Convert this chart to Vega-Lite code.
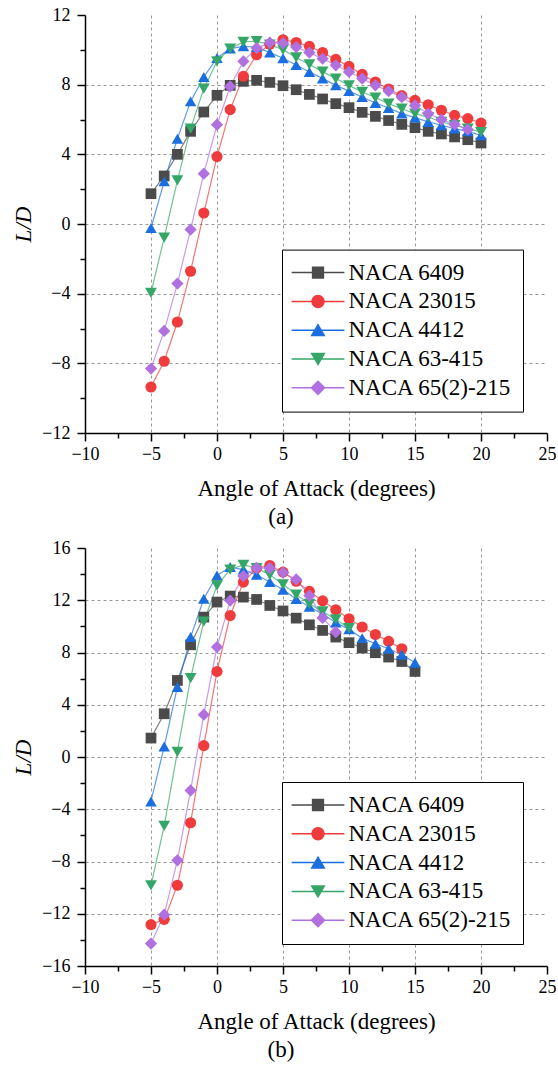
{
  "$schema": "https://vega.github.io/schema/vega-lite/v6.json",
  "padding": {"left": 12, "top": 6, "right": 0, "bottom": 0},
  "spacing": 10,
  "config": {
    "view": {"stroke": null},
    "font": "Liberation Serif",
    "style": {"guide-label": {"font": "Liberation Serif"}, "guide-title": {"font": "Liberation Serif"}},
    "axis": {"domainColor": "#000", "domainWidth": 1.5, "tickColor": "#000", "tickWidth": 1.5, "labelColor": "#000", "labelFontSize": 18, "labelFont": "Liberation Serif", "titleFont": "Liberation Serif", "titleFontSize": 23, "titleFontWeight": "normal", "titleColor": "#000", "gridColor": "#999999", "gridDash": [3, 3], "gridWidth": 1, "labelFlush": false, "labelOverlap": false, "labelBound": false}
  },
  "resolve": {"scale": {"color": "independent"}, "legend": {"color": "independent"}},
  "datasets": {
    "a": [
      {"airfoil": "NACA 6409", "aoa": -5, "ld": 1.74}, {"airfoil": "NACA 6409", "aoa": -4, "ld": 2.76}, {"airfoil": "NACA 6409", "aoa": -3, "ld": 4.0}, {"airfoil": "NACA 6409", "aoa": -2, "ld": 5.32}, {"airfoil": "NACA 6409", "aoa": -1, "ld": 6.43}, {"airfoil": "NACA 6409", "aoa": 0, "ld": 7.39}, {"airfoil": "NACA 6409", "aoa": 1, "ld": 7.96}, {"airfoil": "NACA 6409", "aoa": 2, "ld": 8.19}, {"airfoil": "NACA 6409", "aoa": 3, "ld": 8.25}, {"airfoil": "NACA 6409", "aoa": 4, "ld": 8.13}, {"airfoil": "NACA 6409", "aoa": 5, "ld": 7.94}, {"airfoil": "NACA 6409", "aoa": 6, "ld": 7.71}, {"airfoil": "NACA 6409", "aoa": 7, "ld": 7.44}, {"airfoil": "NACA 6409", "aoa": 8, "ld": 7.18}, {"airfoil": "NACA 6409", "aoa": 9, "ld": 6.91}, {"airfoil": "NACA 6409", "aoa": 10, "ld": 6.68}, {"airfoil": "NACA 6409", "aoa": 11, "ld": 6.41}, {"airfoil": "NACA 6409", "aoa": 12, "ld": 6.18}, {"airfoil": "NACA 6409", "aoa": 13, "ld": 5.94}, {"airfoil": "NACA 6409", "aoa": 14, "ld": 5.72}, {"airfoil": "NACA 6409", "aoa": 15, "ld": 5.53}, {"airfoil": "NACA 6409", "aoa": 16, "ld": 5.32}, {"airfoil": "NACA 6409", "aoa": 17, "ld": 5.17}, {"airfoil": "NACA 6409", "aoa": 18, "ld": 5.0}, {"airfoil": "NACA 6409", "aoa": 19, "ld": 4.84}, {"airfoil": "NACA 6409", "aoa": 20, "ld": 4.65},
      {"airfoil": "NACA 23015", "aoa": -5, "ld": -9.36}, {"airfoil": "NACA 23015", "aoa": -4, "ld": -7.88}, {"airfoil": "NACA 23015", "aoa": -3, "ld": -5.63}, {"airfoil": "NACA 23015", "aoa": -2, "ld": -2.71}, {"airfoil": "NACA 23015", "aoa": -1, "ld": 0.63}, {"airfoil": "NACA 23015", "aoa": 0, "ld": 3.87}, {"airfoil": "NACA 23015", "aoa": 1, "ld": 6.57}, {"airfoil": "NACA 23015", "aoa": 2, "ld": 8.48}, {"airfoil": "NACA 23015", "aoa": 3, "ld": 9.72}, {"airfoil": "NACA 23015", "aoa": 4, "ld": 10.32}, {"airfoil": "NACA 23015", "aoa": 5, "ld": 10.58}, {"airfoil": "NACA 23015", "aoa": 6, "ld": 10.42}, {"airfoil": "NACA 23015", "aoa": 7, "ld": 10.2}, {"airfoil": "NACA 23015", "aoa": 8, "ld": 9.85}, {"airfoil": "NACA 23015", "aoa": 9, "ld": 9.45}, {"airfoil": "NACA 23015", "aoa": 10, "ld": 9.05}, {"airfoil": "NACA 23015", "aoa": 11, "ld": 8.59}, {"airfoil": "NACA 23015", "aoa": 12, "ld": 8.15}, {"airfoil": "NACA 23015", "aoa": 13, "ld": 7.75}, {"airfoil": "NACA 23015", "aoa": 14, "ld": 7.37}, {"airfoil": "NACA 23015", "aoa": 15, "ld": 7.1}, {"airfoil": "NACA 23015", "aoa": 16, "ld": 6.85}, {"airfoil": "NACA 23015", "aoa": 17, "ld": 6.53}, {"airfoil": "NACA 23015", "aoa": 18, "ld": 6.24}, {"airfoil": "NACA 23015", "aoa": 19, "ld": 6.05}, {"airfoil": "NACA 23015", "aoa": 20, "ld": 5.8},
      {"airfoil": "NACA 4412", "aoa": -5, "ld": -0.23}, {"airfoil": "NACA 4412", "aoa": -4, "ld": 2.45}, {"airfoil": "NACA 4412", "aoa": -3, "ld": 4.9}, {"airfoil": "NACA 4412", "aoa": -2, "ld": 7.04}, {"airfoil": "NACA 4412", "aoa": -1, "ld": 8.44}, {"airfoil": "NACA 4412", "aoa": 0, "ld": 9.53}, {"airfoil": "NACA 4412", "aoa": 1, "ld": 10.07}, {"airfoil": "NACA 4412", "aoa": 2, "ld": 10.2}, {"airfoil": "NACA 4412", "aoa": 3, "ld": 10.16}, {"airfoil": "NACA 4412", "aoa": 4, "ld": 9.84}, {"airfoil": "NACA 4412", "aoa": 5, "ld": 9.52}, {"airfoil": "NACA 4412", "aoa": 6, "ld": 9.13}, {"airfoil": "NACA 4412", "aoa": 7, "ld": 8.73}, {"airfoil": "NACA 4412", "aoa": 8, "ld": 8.36}, {"airfoil": "NACA 4412", "aoa": 9, "ld": 7.96}, {"airfoil": "NACA 4412", "aoa": 10, "ld": 7.63}, {"airfoil": "NACA 4412", "aoa": 11, "ld": 7.29}, {"airfoil": "NACA 4412", "aoa": 12, "ld": 6.95}, {"airfoil": "NACA 4412", "aoa": 13, "ld": 6.66}, {"airfoil": "NACA 4412", "aoa": 14, "ld": 6.34}, {"airfoil": "NACA 4412", "aoa": 15, "ld": 6.11}, {"airfoil": "NACA 4412", "aoa": 16, "ld": 5.86}, {"airfoil": "NACA 4412", "aoa": 17, "ld": 5.67}, {"airfoil": "NACA 4412", "aoa": 18, "ld": 5.48}, {"airfoil": "NACA 4412", "aoa": 19, "ld": 5.32}, {"airfoil": "NACA 4412", "aoa": 20, "ld": 5.09},
      {"airfoil": "NACA 63-415", "aoa": -5, "ld": -3.96}, {"airfoil": "NACA 63-415", "aoa": -4, "ld": -0.78}, {"airfoil": "NACA 63-415", "aoa": -3, "ld": 2.51}, {"airfoil": "NACA 63-415", "aoa": -2, "ld": 5.48}, {"airfoil": "NACA 63-415", "aoa": -1, "ld": 7.77}, {"airfoil": "NACA 63-415", "aoa": 0, "ld": 9.34}, {"airfoil": "NACA 63-415", "aoa": 1, "ld": 10.07}, {"airfoil": "NACA 63-415", "aoa": 2, "ld": 10.45}, {"airfoil": "NACA 63-415", "aoa": 3, "ld": 10.5}, {"airfoil": "NACA 63-415", "aoa": 4, "ld": 10.3}, {"airfoil": "NACA 63-415", "aoa": 5, "ld": 10.01}, {"airfoil": "NACA 63-415", "aoa": 6, "ld": 9.56}, {"airfoil": "NACA 63-415", "aoa": 7, "ld": 9.16}, {"airfoil": "NACA 63-415", "aoa": 8, "ld": 8.75}, {"airfoil": "NACA 63-415", "aoa": 9, "ld": 8.35}, {"airfoil": "NACA 63-415", "aoa": 10, "ld": 7.96}, {"airfoil": "NACA 63-415", "aoa": 11, "ld": 7.58}, {"airfoil": "NACA 63-415", "aoa": 12, "ld": 7.26}, {"airfoil": "NACA 63-415", "aoa": 13, "ld": 6.91}, {"airfoil": "NACA 63-415", "aoa": 14, "ld": 6.62}, {"airfoil": "NACA 63-415", "aoa": 15, "ld": 6.34}, {"airfoil": "NACA 63-415", "aoa": 16, "ld": 6.14}, {"airfoil": "NACA 63-415", "aoa": 17, "ld": 5.86}, {"airfoil": "NACA 63-415", "aoa": 18, "ld": 5.67}, {"airfoil": "NACA 63-415", "aoa": 19, "ld": 5.48}, {"airfoil": "NACA 63-415", "aoa": 20, "ld": 5.28},
      {"airfoil": "NACA 65(2)-215", "aoa": -5, "ld": -8.3}, {"airfoil": "NACA 65(2)-215", "aoa": -4, "ld": -6.14}, {"airfoil": "NACA 65(2)-215", "aoa": -3, "ld": -3.42}, {"airfoil": "NACA 65(2)-215", "aoa": -2, "ld": -0.32}, {"airfoil": "NACA 65(2)-215", "aoa": -1, "ld": 2.89}, {"airfoil": "NACA 65(2)-215", "aoa": 0, "ld": 5.7}, {"airfoil": "NACA 65(2)-215", "aoa": 1, "ld": 7.9}, {"airfoil": "NACA 65(2)-215", "aoa": 2, "ld": 9.34}, {"airfoil": "NACA 65(2)-215", "aoa": 3, "ld": 10.1}, {"airfoil": "NACA 65(2)-215", "aoa": 4, "ld": 10.41}, {"airfoil": "NACA 65(2)-215", "aoa": 5, "ld": 10.39}, {"airfoil": "NACA 65(2)-215", "aoa": 6, "ld": 10.16}, {"airfoil": "NACA 65(2)-215", "aoa": 7, "ld": 9.84}, {"airfoil": "NACA 65(2)-215", "aoa": 8, "ld": 9.49}, {"airfoil": "NACA 65(2)-215", "aoa": 9, "ld": 9.11}, {"airfoil": "NACA 65(2)-215", "aoa": 10, "ld": 8.73}, {"airfoil": "NACA 65(2)-215", "aoa": 11, "ld": 8.35}, {"airfoil": "NACA 65(2)-215", "aoa": 12, "ld": 7.96}, {"airfoil": "NACA 65(2)-215", "aoa": 13, "ld": 7.63}, {"airfoil": "NACA 65(2)-215", "aoa": 14, "ld": 7.29}, {"airfoil": "NACA 65(2)-215", "aoa": 15, "ld": 6.81}, {"airfoil": "NACA 65(2)-215", "aoa": 16, "ld": 6.34}, {"airfoil": "NACA 65(2)-215", "aoa": 17, "ld": 5.99}, {"airfoil": "NACA 65(2)-215", "aoa": 18, "ld": 5.72}, {"airfoil": "NACA 65(2)-215", "aoa": 19, "ld": 5.42}
    ],
    "b": [
      {"airfoil": "NACA 6409", "aoa": -5, "ld": 1.45}, {"airfoil": "NACA 6409", "aoa": -4, "ld": 3.31}, {"airfoil": "NACA 6409", "aoa": -3, "ld": 5.86}, {"airfoil": "NACA 6409", "aoa": -2, "ld": 8.59}, {"airfoil": "NACA 6409", "aoa": -1, "ld": 10.71}, {"airfoil": "NACA 6409", "aoa": 0, "ld": 11.86}, {"airfoil": "NACA 6409", "aoa": 1, "ld": 12.32}, {"airfoil": "NACA 6409", "aoa": 2, "ld": 12.24}, {"airfoil": "NACA 6409", "aoa": 3, "ld": 12.06}, {"airfoil": "NACA 6409", "aoa": 4, "ld": 11.6}, {"airfoil": "NACA 6409", "aoa": 5, "ld": 11.18}, {"airfoil": "NACA 6409", "aoa": 6, "ld": 10.63}, {"airfoil": "NACA 6409", "aoa": 7, "ld": 10.12}, {"airfoil": "NACA 6409", "aoa": 8, "ld": 9.69}, {"airfoil": "NACA 6409", "aoa": 9, "ld": 9.18}, {"airfoil": "NACA 6409", "aoa": 10, "ld": 8.75}, {"airfoil": "NACA 6409", "aoa": 11, "ld": 8.34}, {"airfoil": "NACA 6409", "aoa": 12, "ld": 7.98}, {"airfoil": "NACA 6409", "aoa": 13, "ld": 7.65}, {"airfoil": "NACA 6409", "aoa": 14, "ld": 7.31}, {"airfoil": "NACA 6409", "aoa": 15, "ld": 6.55},
      {"airfoil": "NACA 23015", "aoa": -5, "ld": -12.83}, {"airfoil": "NACA 23015", "aoa": -4, "ld": -12.43}, {"airfoil": "NACA 23015", "aoa": -3, "ld": -9.82}, {"airfoil": "NACA 23015", "aoa": -2, "ld": -5.03}, {"airfoil": "NACA 23015", "aoa": -1, "ld": 0.87}, {"airfoil": "NACA 23015", "aoa": 0, "ld": 6.55}, {"airfoil": "NACA 23015", "aoa": 1, "ld": 10.83}, {"airfoil": "NACA 23015", "aoa": 2, "ld": 13.39}, {"airfoil": "NACA 23015", "aoa": 3, "ld": 14.46}, {"airfoil": "NACA 23015", "aoa": 4, "ld": 14.66}, {"airfoil": "NACA 23015", "aoa": 5, "ld": 14.15}, {"airfoil": "NACA 23015", "aoa": 6, "ld": 13.45}, {"airfoil": "NACA 23015", "aoa": 7, "ld": 12.68}, {"airfoil": "NACA 23015", "aoa": 8, "ld": 11.95}, {"airfoil": "NACA 23015", "aoa": 9, "ld": 11.27}, {"airfoil": "NACA 23015", "aoa": 10, "ld": 10.58}, {"airfoil": "NACA 23015", "aoa": 11, "ld": 9.95}, {"airfoil": "NACA 23015", "aoa": 12, "ld": 9.38}, {"airfoil": "NACA 23015", "aoa": 13, "ld": 8.85}, {"airfoil": "NACA 23015", "aoa": 14, "ld": 8.29},
      {"airfoil": "NACA 4412", "aoa": -5, "ld": -3.4}, {"airfoil": "NACA 4412", "aoa": -4, "ld": 0.8}, {"airfoil": "NACA 4412", "aoa": -3, "ld": 5.36}, {"airfoil": "NACA 4412", "aoa": -2, "ld": 9.18}, {"airfoil": "NACA 4412", "aoa": -1, "ld": 12.11}, {"airfoil": "NACA 4412", "aoa": 0, "ld": 13.9}, {"airfoil": "NACA 4412", "aoa": 1, "ld": 14.54}, {"airfoil": "NACA 4412", "aoa": 2, "ld": 14.35}, {"airfoil": "NACA 4412", "aoa": 3, "ld": 13.95}, {"airfoil": "NACA 4412", "aoa": 4, "ld": 13.39}, {"airfoil": "NACA 4412", "aoa": 5, "ld": 12.8}, {"airfoil": "NACA 4412", "aoa": 6, "ld": 12.1}, {"airfoil": "NACA 4412", "aoa": 7, "ld": 11.5}, {"airfoil": "NACA 4412", "aoa": 8, "ld": 10.95}, {"airfoil": "NACA 4412", "aoa": 9, "ld": 10.3}, {"airfoil": "NACA 4412", "aoa": 10, "ld": 9.77}, {"airfoil": "NACA 4412", "aoa": 11, "ld": 9.1}, {"airfoil": "NACA 4412", "aoa": 12, "ld": 8.67}, {"airfoil": "NACA 4412", "aoa": 13, "ld": 8.29}, {"airfoil": "NACA 4412", "aoa": 14, "ld": 7.85}, {"airfoil": "NACA 4412", "aoa": 15, "ld": 7.22},
      {"airfoil": "NACA 63-415", "aoa": -5, "ld": -9.82}, {"airfoil": "NACA 63-415", "aoa": -4, "ld": -5.28}, {"airfoil": "NACA 63-415", "aoa": -3, "ld": 0.4}, {"airfoil": "NACA 63-415", "aoa": -2, "ld": 6.04}, {"airfoil": "NACA 63-415", "aoa": -1, "ld": 10.37}, {"airfoil": "NACA 63-415", "aoa": 0, "ld": 13.13}, {"airfoil": "NACA 63-415", "aoa": 1, "ld": 14.35}, {"airfoil": "NACA 63-415", "aoa": 2, "ld": 14.71}, {"airfoil": "NACA 63-415", "aoa": 3, "ld": 14.46}, {"airfoil": "NACA 63-415", "aoa": 4, "ld": 13.95}, {"airfoil": "NACA 63-415", "aoa": 5, "ld": 13.22}, {"airfoil": "NACA 63-415", "aoa": 6, "ld": 12.43}, {"airfoil": "NACA 63-415", "aoa": 7, "ld": 11.73}, {"airfoil": "NACA 63-415", "aoa": 8, "ld": 11.14}, {"airfoil": "NACA 63-415", "aoa": 9, "ld": 10.53}, {"airfoil": "NACA 63-415", "aoa": 10, "ld": 9.87},
      {"airfoil": "NACA 65(2)-215", "aoa": -5, "ld": -14.28}, {"airfoil": "NACA 65(2)-215", "aoa": -4, "ld": -12.07}, {"airfoil": "NACA 65(2)-215", "aoa": -3, "ld": -7.91}, {"airfoil": "NACA 65(2)-215", "aoa": -2, "ld": -2.56}, {"airfoil": "NACA 65(2)-215", "aoa": -1, "ld": 3.24}, {"airfoil": "NACA 65(2)-215", "aoa": 0, "ld": 8.42}, {"airfoil": "NACA 65(2)-215", "aoa": 1, "ld": 11.98}, {"airfoil": "NACA 65(2)-215", "aoa": 2, "ld": 13.85}, {"airfoil": "NACA 65(2)-215", "aoa": 3, "ld": 14.46}, {"airfoil": "NACA 65(2)-215", "aoa": 4, "ld": 14.46}, {"airfoil": "NACA 65(2)-215", "aoa": 5, "ld": 14.12}, {"airfoil": "NACA 65(2)-215", "aoa": 6, "ld": 13.59}, {"airfoil": "NACA 65(2)-215", "aoa": 7, "ld": 12.35}, {"airfoil": "NACA 65(2)-215", "aoa": 8, "ld": 10.65}, {"airfoil": "NACA 65(2)-215", "aoa": 9, "ld": 9.56}
    ]
  },
  "vconcat": [
    {
      "width": 462, "height": 418,
      "title": {"text": "(a)", "orient": "bottom", "frame": "group", "anchor": "middle", "dx": -35, "offset": 6, "fontSize": 23, "fontWeight": "normal", "font": "Liberation Serif", "color": "#000"},
      "data": {"name": "a"},
      "encoding": {
        "x": {"field": "aoa", "type": "quantitative", "scale": {"domain": [-10, 25], "nice": false},
          "axis": {"title": "Angle of Attack (degrees)", "labelFont": "Liberation Serif", "titleFont": "Liberation Serif", "values": [-10, -7.5, -5, -2.5, 0, 2.5, 5, 7.5, 10, 12.5, 15, 17.5, 20, 22.5, 25], "labelExpr": "datum.value % 5 === 0 ? datum.label : ''", "tickSize": {"condition": {"test": "datum.value % 5 === 0", "value": 8}, "value": 5}, "grid": true, "gridOpacity": {"condition": {"test": "datum.value % 5 === 0 && datum.value > -10 && datum.value < 25", "value": 1}, "value": 0}, "labelPadding": 4, "titlePadding": 14}},
        "y": {"field": "ld", "type": "quantitative", "scale": {"domain": [-12, 12], "nice": false},
          "axis": {"title": "L/D", "labelFont": "Liberation Serif", "titleFont": "Liberation Serif", "titleFontStyle": "italic", "values": [-12, -10, -8, -6, -4, -2, 0, 2, 4, 6, 8, 10, 12], "labelExpr": "datum.value % 4 === 0 ? datum.label : ''", "tickSize": {"condition": {"test": "datum.value % 4 === 0", "value": 8}, "value": 5}, "grid": true, "gridOpacity": {"condition": {"test": "datum.value % 4 === 0 && datum.value > -12 && datum.value < 12", "value": 1}, "value": 0}, "labelPadding": 7, "titlePadding": 6}},
        "color": {"field": "airfoil", "type": "nominal", "sort": null,
          "scale": {"domain": ["NACA 6409", "NACA 23015", "NACA 4412", "NACA 63-415", "NACA 65(2)-215"], "range": ["#4b4b4b", "#ef3b3b", "#1a6ee0", "#34a768", "#b070e0"]},
          "legend": {"title": null, "orient": "none", "legendX": 197, "legendY": 234.6, "fillColor": "#ffffff", "strokeColor": "#000000", "cornerRadius": 0, "padding": 11.5, "rowPadding": 4.8, "symbolSize": 144, "symbolOffset": 13, "labelOffset": 19, "labelFontSize": 23, "labelFont": "Liberation Serif", "labelColor": "#000", "labelLimit": 400,
            "encoding": {"symbols": {
              "shape": {"condition": [{"test": "datum.value === 'NACA 6409'", "value": "M-4.4,0H-0.9M0.9,0H4.4M-0.9,-0.9H0.9V0.9H-0.9Z"}, {"test": "datum.value === 'NACA 23015'", "value": "M-4.4,0H-1M1,0H4.4M1,0A1,1,0,1,1,-1,0A1,1,0,1,1,1,0Z"}, {"test": "datum.value === 'NACA 4412'", "value": "M-4.4,0H-0.6M0.6,0H4.4M0,-0.9L1.05,0.9L-1.05,0.9Z"}, {"test": "datum.value === 'NACA 63-415'", "value": "M-4.4,0H-0.6M0.6,0H4.4M0,0.9L-1.05,-0.9L1.05,-0.9Z"}], "value": "M-4.4,0H-1.1M1.1,0H4.4M0,-1.1L1.1,0L0,1.1L-1.1,0Z"},
              "fill": {"condition": [{"test": "datum.value === 'NACA 6409'", "value": "#4b4b4b"}, {"test": "datum.value === 'NACA 23015'", "value": "#ef3b3b"}, {"test": "datum.value === 'NACA 4412'", "value": "#1a6ee0"}, {"test": "datum.value === 'NACA 63-415'", "value": "#34a768"}], "value": "#b070e0"},
              "stroke": {"condition": [{"test": "datum.value === 'NACA 6409'", "value": "#777777"}, {"test": "datum.value === 'NACA 23015'", "value": "#f47f7f"}, {"test": "datum.value === 'NACA 4412'", "value": "#3d82e6"}, {"test": "datum.value === 'NACA 63-415'", "value": "#74c497"}], "value": "#c59be8"},
              "size": {"value": 144}, "opacity": {"value": 1}}}}}
      },
      "layer": [
        {"mark": {"type": "line", "strokeWidth": 1.2, "opacity": 0.7}},
        {"mark": {"type": "point", "filled": true, "opacity": 1},
          "encoding": {
            "shape": {"field": "airfoil", "type": "nominal", "scale": {"domain": ["NACA 6409", "NACA 23015", "NACA 4412", "NACA 63-415", "NACA 65(2)-215"], "range": ["square", "circle", "triangle-up", "triangle-down", "diamond"]}, "legend": null},
            "size": {"field": "airfoil", "type": "nominal", "scale": {"domain": ["NACA 6409", "NACA 23015", "NACA 4412", "NACA 63-415", "NACA 65(2)-215"], "range": [115, 150, 160, 160, 170]}, "legend": null}}}
      ]
    },
    {
      "width": 462, "height": 418,
      "title": {"text": "(b)", "orient": "bottom", "frame": "group", "anchor": "middle", "dx": -35, "offset": 6, "fontSize": 23, "fontWeight": "normal", "font": "Liberation Serif", "color": "#000"},
      "data": {"name": "b"},
      "encoding": {
        "x": {"field": "aoa", "type": "quantitative", "scale": {"domain": [-10, 25], "nice": false},
          "axis": {"title": "Angle of Attack (degrees)", "labelFont": "Liberation Serif", "titleFont": "Liberation Serif", "values": [-10, -7.5, -5, -2.5, 0, 2.5, 5, 7.5, 10, 12.5, 15, 17.5, 20, 22.5, 25], "labelExpr": "datum.value % 5 === 0 ? datum.label : ''", "tickSize": {"condition": {"test": "datum.value % 5 === 0", "value": 8}, "value": 5}, "grid": true, "gridOpacity": {"condition": {"test": "datum.value % 5 === 0 && datum.value > -10 && datum.value < 25", "value": 1}, "value": 0}, "labelPadding": 4, "titlePadding": 14}},
        "y": {"field": "ld", "type": "quantitative", "scale": {"domain": [-16, 16], "nice": false},
          "axis": {"title": "L/D", "labelFont": "Liberation Serif", "titleFont": "Liberation Serif", "titleFontStyle": "italic", "values": [-16, -14, -12, -10, -8, -6, -4, -2, 0, 2, 4, 6, 8, 10, 12, 14, 16], "labelExpr": "datum.value % 4 === 0 ? datum.label : ''", "tickSize": {"condition": {"test": "datum.value % 4 === 0", "value": 8}, "value": 5}, "grid": true, "gridOpacity": {"condition": {"test": "datum.value % 4 === 0 && datum.value > -16 && datum.value < 16", "value": 1}, "value": 0}, "labelPadding": 7, "titlePadding": 6}},
        "color": {"field": "airfoil", "type": "nominal", "sort": null,
          "scale": {"domain": ["NACA 6409", "NACA 23015", "NACA 4412", "NACA 63-415", "NACA 65(2)-215"], "range": ["#4b4b4b", "#ef3b3b", "#1a6ee0", "#34a768", "#b070e0"]},
          "legend": {"title": null, "orient": "none", "legendX": 197, "legendY": 234, "fillColor": "#ffffff", "strokeColor": "#000000", "cornerRadius": 0, "padding": 11.5, "rowPadding": 4.8, "symbolSize": 144, "symbolOffset": 13, "labelOffset": 19, "labelFontSize": 23, "labelFont": "Liberation Serif", "labelColor": "#000", "labelLimit": 400,
            "encoding": {"symbols": {
              "shape": {"condition": [{"test": "datum.value === 'NACA 6409'", "value": "M-4.4,0H-0.9M0.9,0H4.4M-0.9,-0.9H0.9V0.9H-0.9Z"}, {"test": "datum.value === 'NACA 23015'", "value": "M-4.4,0H-1M1,0H4.4M1,0A1,1,0,1,1,-1,0A1,1,0,1,1,1,0Z"}, {"test": "datum.value === 'NACA 4412'", "value": "M-4.4,0H-0.6M0.6,0H4.4M0,-0.9L1.05,0.9L-1.05,0.9Z"}, {"test": "datum.value === 'NACA 63-415'", "value": "M-4.4,0H-0.6M0.6,0H4.4M0,0.9L-1.05,-0.9L1.05,-0.9Z"}], "value": "M-4.4,0H-1.1M1.1,0H4.4M0,-1.1L1.1,0L0,1.1L-1.1,0Z"},
              "fill": {"condition": [{"test": "datum.value === 'NACA 6409'", "value": "#4b4b4b"}, {"test": "datum.value === 'NACA 23015'", "value": "#ef3b3b"}, {"test": "datum.value === 'NACA 4412'", "value": "#1a6ee0"}, {"test": "datum.value === 'NACA 63-415'", "value": "#34a768"}], "value": "#b070e0"},
              "stroke": {"condition": [{"test": "datum.value === 'NACA 6409'", "value": "#777777"}, {"test": "datum.value === 'NACA 23015'", "value": "#f47f7f"}, {"test": "datum.value === 'NACA 4412'", "value": "#3d82e6"}, {"test": "datum.value === 'NACA 63-415'", "value": "#74c497"}], "value": "#c59be8"},
              "size": {"value": 144}, "opacity": {"value": 1}}}}}
      },
      "layer": [
        {"mark": {"type": "line", "strokeWidth": 1.2, "opacity": 0.7}},
        {"mark": {"type": "point", "filled": true, "opacity": 1},
          "encoding": {
            "shape": {"field": "airfoil", "type": "nominal", "scale": {"domain": ["NACA 6409", "NACA 23015", "NACA 4412", "NACA 63-415", "NACA 65(2)-215"], "range": ["square", "circle", "triangle-up", "triangle-down", "diamond"]}, "legend": null},
            "size": {"field": "airfoil", "type": "nominal", "scale": {"domain": ["NACA 6409", "NACA 23015", "NACA 4412", "NACA 63-415", "NACA 65(2)-215"], "range": [115, 150, 160, 160, 170]}, "legend": null}}}
      ]
    }
  ]
}
